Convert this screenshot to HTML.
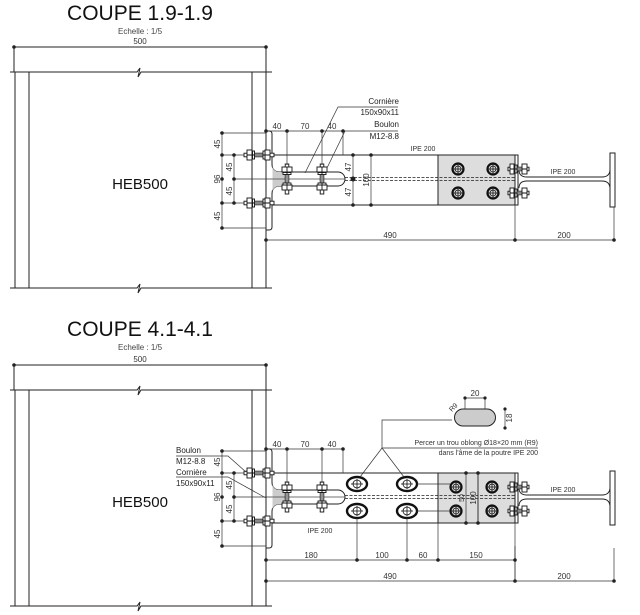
<!DOCTYPE html>
<html><head><meta charset="utf-8"><style>
html,body{margin:0;padding:0;background:#fff;}
svg{display:block;font-family:"Liberation Sans",Arial,sans-serif;}
</style></head><body>
<svg width="640" height="615" viewBox="0 0 640 615" xmlns="http://www.w3.org/2000/svg">
<defs>
<g id="hb" stroke="#111" stroke-width="0.9" fill="#fff">
<rect x="-15" y="-1.8" width="30" height="3.6"/>
<rect x="-12" y="-5" width="5" height="10"/>
<rect x="-6.5" y="-4" width="2" height="8"/>
<rect x="6" y="-5" width="5" height="10"/>
<rect x="4" y="-4" width="2" height="8"/>
<line x1="-12" y1="0" x2="11" y2="0"/>
</g>
<g id="vb"><use href="#hb" transform="rotate(90)"/></g>
<g id="sb" stroke="#111" stroke-width="0.9" fill="#fff">
<rect x="-10" y="-1.8" width="21" height="3.6"/>
<rect x="-8" y="-5" width="4" height="10"/>
<rect x="-3" y="-4" width="2" height="8"/>
<rect x="4" y="-5" width="5" height="10"/>
<line x1="-8" y1="0" x2="9" y2="0"/>
</g>
<g id="rb" stroke="#111" fill="none">
<circle r="5.5" stroke-width="2.2"/>
<circle r="3" stroke-width="0.8"/>
<line x1="-5" y1="0" x2="5" y2="0" stroke-width="0.8"/>
<line x1="0" y1="-5" x2="0" y2="5" stroke-width="0.8"/>
</g>
<g id="sl" stroke="#111" fill="none">
<ellipse rx="10" ry="7" stroke-width="2.4"/>
<circle r="4" stroke-width="0.8"/>
<line x1="-6" y1="0" x2="6" y2="0" stroke-width="0.8"/>
<line x1="0" y1="-5" x2="0" y2="5" stroke-width="0.8"/>
</g>
<g id="common">
<g stroke="#222" stroke-width="1" fill="none">
<line x1="14" y1="47" x2="266" y2="47"/>
<line x1="14" y1="47" x2="14" y2="72"/><line x1="266" y1="47" x2="266" y2="72"/>
<path d="M10,72 H137 l3,-4 l-2,9 l3,-5 H272"/>
<path d="M10,288 H137 l3,-4 l-2,9 l3,-5 H272"/>
<line x1="15" y1="72" x2="15" y2="288"/><line x1="29" y1="72" x2="29" y2="288"/>
<line x1="252" y1="72" x2="252" y2="288"/><line x1="266" y1="72" x2="266" y2="288"/>
</g>
<g fill="#222"><circle cx="14" cy="47" r="1.8"/><circle cx="266" cy="47" r="1.8"/></g>
<text x="140" y="44" font-size="8" text-anchor="middle" fill="#333">500</text>
<text x="140" y="189" font-size="15" text-anchor="middle" fill="#111">HEB500</text>
<rect x="438" y="155" width="77" height="50" fill="#ddd"/>
<g stroke="#222" stroke-width="1" fill="none">
<line x1="272" y1="155" x2="515" y2="155"/>
<line x1="272" y1="205" x2="515" y2="205"/>
<line x1="438" y1="155" x2="438" y2="205"/>
<rect x="515" y="155" width="3" height="50"/>
<line x1="345" y1="177.5" x2="515" y2="177.5" stroke-dasharray="3,1.5" stroke-width="0.8"/>
<line x1="345" y1="180.5" x2="515" y2="180.5" stroke-dasharray="3,1.5" stroke-width="0.8"/>
<path d="M519,170 q0,7 8,7 H602 q8,0 8,-8 M519,188 q0,-7 8,-7 H602 q8,0 8,8" stroke-width="0.9"/>
<rect x="610" y="153" width="5" height="54"/>
</g>
<path d="M266,131 h3 q3,0 3,3 V164 q0,8 8,8 H338 a7,7 0 0 1 0,14 H280 q-8,0 -8,8 V227 q0,3 -3,3 h-3 Z" fill="#fff" stroke="#222" stroke-width="1"/>
<path d="M272.5,165 q0,7 8,7 h8 v14 h-8 q-8,0 -8,7 Z" fill="#ccc"/>
<line x1="272" y1="179" x2="345" y2="179" stroke="#444" stroke-width="0.7"/>
<use href="#hb" x="259" y="155"/><use href="#hb" x="259" y="203"/>
<use href="#vb" x="287" y="179"/><use href="#vb" x="322" y="179"/>
<use href="#sb" x="518" y="169"/><use href="#sb" x="518" y="193"/>
<g stroke="#333" stroke-width="0.7" fill="none">
<line x1="222" y1="133" x2="222" y2="228"/><line x1="234" y1="155" x2="234" y2="203"/>
<line x1="222" y1="133" x2="266" y2="133"/><line x1="222" y1="228" x2="266" y2="228"/>
<line x1="222" y1="155" x2="244" y2="155"/><line x1="222" y1="203" x2="244" y2="203"/>
<line x1="234" y1="179" x2="272" y2="179"/>
<line x1="266" y1="131" x2="343" y2="131"/>
<line x1="287" y1="131" x2="287" y2="165"/><line x1="322" y1="131" x2="322" y2="165"/>
<line x1="343" y1="131" x2="343" y2="155"/>
</g>
<g fill="#222">
<circle cx="222" cy="133" r="1.8"/><circle cx="222" cy="155" r="1.8"/><circle cx="222" cy="179" r="1.8"/><circle cx="222" cy="203" r="1.8"/><circle cx="222" cy="228" r="1.8"/>
<circle cx="234" cy="155" r="1.8"/><circle cx="234" cy="179" r="1.8"/><circle cx="234" cy="203" r="1.8"/>
<circle cx="266" cy="131" r="1.8"/><circle cx="287" cy="131" r="1.8"/><circle cx="322" cy="131" r="1.8"/><circle cx="343" cy="131" r="1.8"/>
</g>
<g font-size="8" fill="#333" text-anchor="middle">
<text x="277" y="129">40</text><text x="305" y="129">70</text><text x="332" y="129">40</text>
<text transform="translate(220,144) rotate(-90)">45</text>
<text transform="translate(220,179) rotate(-90)">96</text>
<text transform="translate(220,216) rotate(-90)">45</text>
<text transform="translate(232,167) rotate(-90)">45</text>
<text transform="translate(232,191) rotate(-90)">45</text>
<text x="563" y="174" font-size="7">IPE 200</text>
</g>
</g>
<g id="d490">
<g stroke="#333" stroke-width="0.7" fill="none">
<line x1="266" y1="0" x2="614" y2="0"/>
<line x1="515" y1="-35" x2="515" y2="0"/><line x1="614" y1="-33" x2="614" y2="0"/>
</g>
<g fill="#222"><circle cx="266" cy="0" r="1.8"/><circle cx="515" cy="0" r="1.8"/><circle cx="614" cy="0" r="1.8"/></g>
<g font-size="8" fill="#333" text-anchor="middle"><text x="390" y="-2">490</text><text x="564" y="-2">200</text></g>
</g>
</defs>

<!-- TOP -->
<text x="140" y="20" font-size="21" text-anchor="middle" fill="#111">COUPE 1.9-1.9</text>
<text x="140" y="34" font-size="8" text-anchor="middle" fill="#444">Echelle : 1/5</text>
<use href="#common"/>
<use href="#d490" y="240"/>
<use href="#rb" x="458" y="169"/><use href="#rb" x="493" y="169"/>
<use href="#rb" x="458" y="193"/><use href="#rb" x="493" y="193"/>
<g stroke="#333" stroke-width="0.7" fill="none">
<line x1="353" y1="155" x2="353" y2="205"/><line x1="371" y1="155" x2="371" y2="205"/>
<polyline points="305,173 338,107 398,107"/>
<polyline points="327,168 345,131 398,131"/>
</g>
<g fill="#222"><circle cx="353" cy="155" r="1.8"/><circle cx="353" cy="179" r="2.5"/><circle cx="353" cy="205" r="1.8"/><circle cx="371" cy="155" r="1.8"/><circle cx="371" cy="205" r="1.8"/></g>
<g font-size="8" fill="#222" text-anchor="end">
<text x="399" y="104">Cornière</text><text x="399" y="115">150x90x11</text>
<text x="399" y="127">Boulon</text><text x="399" y="139">M12-8.8</text>
</g>
<g font-size="8" fill="#333" text-anchor="middle">
<text transform="translate(351,167) rotate(-90)">47</text>
<text transform="translate(351,192) rotate(-90)">47</text>
<text transform="translate(369,180) rotate(-90)">100</text>
<text x="423" y="151" font-size="7">IPE 200</text>
</g>

<!-- BOTTOM -->
<text x="140" y="336" font-size="21" text-anchor="middle" fill="#111">COUPE 4.1-4.1</text>
<text x="140" y="350" font-size="8" text-anchor="middle" fill="#444">Echelle : 1/5</text>
<use href="#common" y="318"/>
<use href="#d490" y="581"/>
<line x1="515" y1="546" x2="515" y2="581" stroke="#333" stroke-width="0.7"/>
<line x1="478" y1="473" x2="478" y2="523" stroke="#222" stroke-width="0.9"/>
<use href="#rb" x="456" y="487"/><use href="#rb" x="492" y="487"/>
<use href="#rb" x="456" y="511"/><use href="#rb" x="492" y="511"/>
<use href="#sl" x="357" y="484"/><use href="#sl" x="407" y="484"/>
<use href="#sl" x="357" y="511"/><use href="#sl" x="407" y="511"/>
<g stroke="#333" stroke-width="0.7" fill="none">
<line x1="417" y1="484" x2="450" y2="484"/><line x1="417" y1="511" x2="450" y2="511"/>
<line x1="357" y1="518" x2="357" y2="560"/><line x1="407" y1="518" x2="407" y2="560"/>
<line x1="438" y1="523" x2="438" y2="560"/><line x1="515" y1="523" x2="515" y2="560"/>
<line x1="266" y1="560" x2="515" y2="560"/>
<line x1="466" y1="473" x2="466" y2="523"/><line x1="478" y1="473" x2="478" y2="523"/>
<polyline points="360,477 382,448 538,448"/><line x1="382" y1="448" x2="404" y2="477"/>
<polyline points="382,448 382,420 452,420"/>
<line x1="465" y1="398" x2="465" y2="410"/><line x1="485" y1="398" x2="485" y2="410"/>
<line x1="465" y1="398" x2="485" y2="398"/>
<line x1="505" y1="409" x2="505" y2="428"/>
<polyline points="176,456 228,456 246,472"/>
<polyline points="176,477 228,477 266,498"/>
</g>
<path d="M463,409 h24 a8.5,8.5 0 0 1 0,17 h-24 a8.5,8.5 0 0 1 0,-17 Z" fill="#ccc" stroke="#222" stroke-width="1"/>
<g fill="#222">
<circle cx="266" cy="560" r="1.8"/><circle cx="357" cy="560" r="1.8"/><circle cx="407" cy="560" r="1.8"/><circle cx="438" cy="560" r="1.8"/><circle cx="515" cy="560" r="1.8"/>
<circle cx="466" cy="473" r="1.8"/><circle cx="466" cy="523" r="1.8"/><circle cx="478" cy="473" r="1.8"/><circle cx="478" cy="523" r="1.8"/>
<circle cx="465" cy="398" r="1.6"/><circle cx="485" cy="398" r="1.6"/><circle cx="505" cy="409" r="1.6"/><circle cx="505" cy="428" r="1.6"/>
</g>
<g font-size="8" fill="#333" text-anchor="middle">
<text x="311" y="558">180</text><text x="382" y="558">100</text><text x="423" y="558">60</text><text x="476" y="558">150</text>
<text x="475" y="396">20</text>
<text transform="translate(512,418) rotate(-90)">18</text>
<text transform="translate(455,409) rotate(-45)" font-size="7">R9</text>
<text transform="translate(476,498) rotate(-90)">100</text>
<text transform="translate(464,498) rotate(-90)" font-size="7">50</text>
<text x="320" y="533" font-size="7">IPE 200</text>
</g>
<g font-size="7" fill="#333" text-anchor="end">
<text x="538" y="445">Percer un trou oblong Ø18×20 mm (R9)</text>
<text x="538" y="455">dans l'âme de la poutre IPE 200</text>
</g>
<g font-size="8" fill="#222">
<text x="176" y="453">Boulon</text><text x="176" y="464">M12-8.8</text>
<text x="176" y="475">Cornière</text><text x="176" y="486">150x90x11</text>
</g>
</svg>
</body></html>
